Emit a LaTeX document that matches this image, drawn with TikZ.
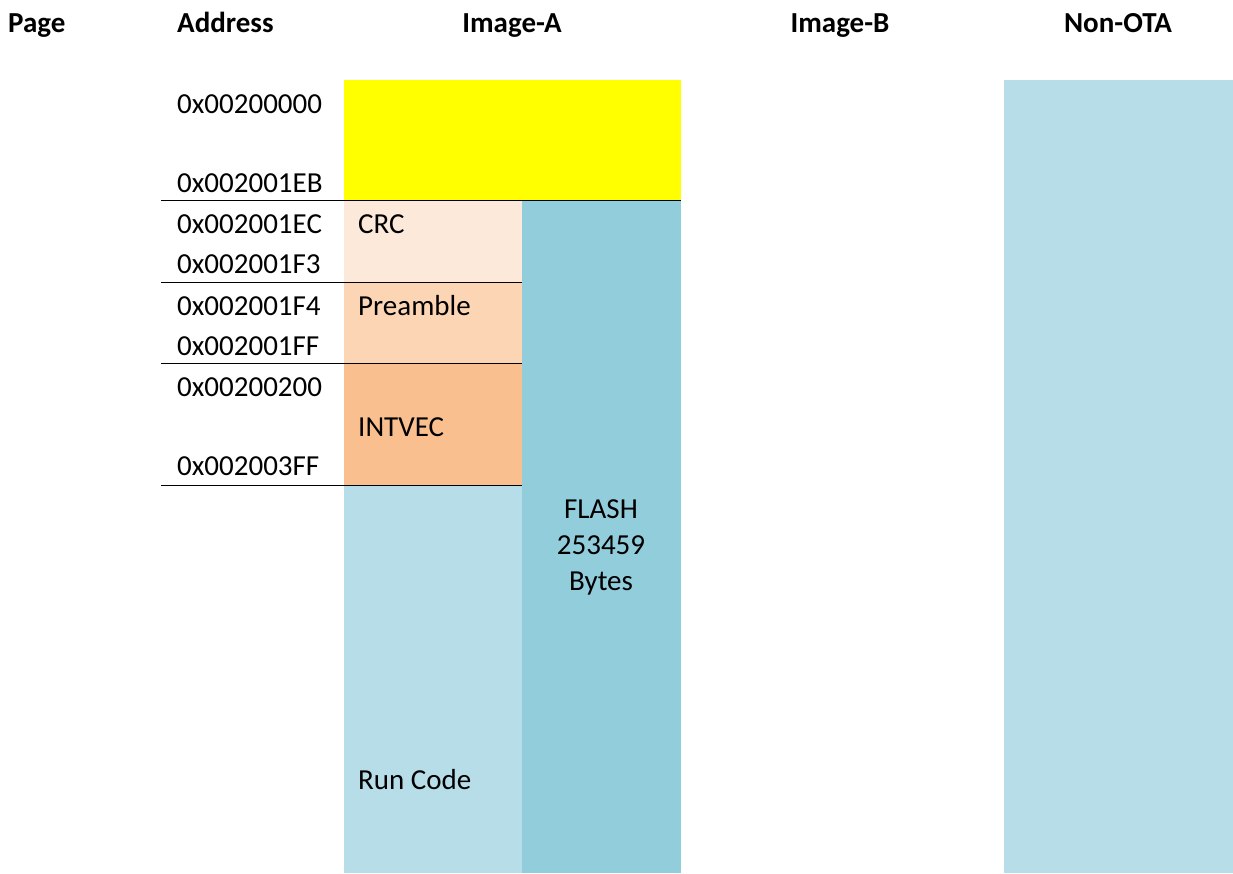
\documentclass[tikz,border=0pt]{standalone}
\usepackage{fontspec}
\setmainfont{Carlito}

\definecolor{hdrfill}{HTML}{FFFF00}
\definecolor{crcfill}{HTML}{FDE9D9}
\definecolor{prefill}{HTML}{FCD5B4}
\definecolor{vecfill}{HTML}{FABF8F}
\definecolor{runfill}{HTML}{B7DEE8}
\definecolor{flashfill}{HTML}{92CDDC}

\begin{document}
\begin{tikzpicture}[x=1pt,y=-1pt,
    every node/.style={inner sep=0pt,font=\fontsize{29}{36}\selectfont},
    head/.style={anchor=base,font=\fontsize{29}{36}\selectfont\bfseries},
    addr/.style={anchor=base west},
    part/.style={anchor=base west}]
  % Page size of the reference (pixels)
  \useasboundingbox (0,0) rectangle (1233,873);

  % Column headers
  \node[head,anchor=base west] (page)    at (8,32)    {Page};
  \node[head,anchor=base west] (address) at (177,32)  {Address};
  \node[head] (imagea) at (512,32)  {Image-A};
  \node[head] (imageb) at (840,32)  {Image-B};
  \node[head] (nonota) at (1118,32) {Non-OTA};

  % Image-A blocks
  \fill[hdrfill]   (344,80)  rectangle (681,200);
  \fill[crcfill]   (344,200) rectangle (522,282);
  \fill[prefill]   (344,282) rectangle (522,363);
  \fill[vecfill]   (344,363) rectangle (522,485);
  \fill[runfill]   (344,485) rectangle (522,873);
  \fill[flashfill] (522,200) rectangle (681,873);

  % Non-OTA block
  \fill[runfill] (1004,80) rectangle (1233,873);

  % Separator lines between the regions
  \draw[line width=0.9pt] (161,200) -- (681,200);
  \draw[line width=0.9pt] (161,282) -- (522,282);
  \draw[line width=0.9pt] (161,363) -- (522,363);
  \draw[line width=0.9pt] (161,485) -- (522,485);

  % Addresses
  \node[addr] (a1) at (177,113) {0x00200000};
  \node[addr] (a2) at (177,192) {0x002001EB};
  \node[addr] (a3) at (177,233) {0x002001EC};
  \node[addr] (a4) at (177,273) {0x002001F3};
  \node[addr] (a5) at (177,315) {0x002001F4};
  \node[addr] (a6) at (177,355) {0x002001FF};
  \node[addr] (a7) at (177,396) {0x00200200};
  \node[addr] (a8) at (177,475) {0x002003FF};

  % Region names
  \node[part] (crc)      at (358,233) {CRC};
  \node[part] (preamble) at (358,315) {Preamble};
  \node[part] (intvec)   at (358,436) {INTVEC};
  \node[part] (runcode)  at (358,789) {Run Code};

  % base of a multi-line node is its last line
  \node[anchor=base,align=center] (flash) at (601,590)
    {FLASH\\253459\\Bytes};
\end{tikzpicture}
\end{document}
